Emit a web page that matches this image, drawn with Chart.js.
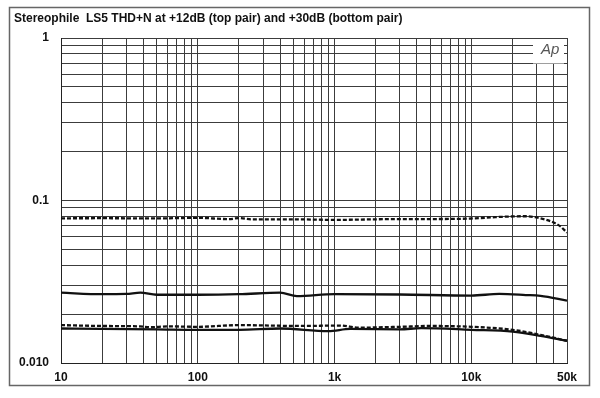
<!DOCTYPE html>
<html lang="en">
<head>
    <meta charset="UTF-8">
    <title>Stereophile LS5 THD+N</title>
    <script src="https://cdn.jsdelivr.net/npm/chart.js@4.4.0/dist/chart.umd.min.js"></script>
    <style>
        html, body { margin: 0; padding: 0; background: #fff; }
        #wrap { width: 600px; height: 398px; }
    </style>
</head>
<body>
    <div id="wrap"><canvas id="thdChart"></canvas></div>

    <script>
        // Frequency axis (Hz) and tick positions
        const xTicks = [10, 20, 30, 40, 50, 60, 70, 80, 90,
                        100, 200, 300, 400, 500, 600, 700, 800, 900,
                        1000, 2000, 3000, 4000, 5000, 6000, 7000, 8000, 9000,
                        10000, 20000, 30000, 40000, 50000];
        const xLabels = { 10: '10', 100: '100', 1000: '1k', 10000: '10k', 50000: '50k' };
        const yTicks = [0.01, 0.02, 0.03, 0.04, 0.05, 0.06, 0.07, 0.08, 0.09,
                        0.1, 0.2, 0.3, 0.4, 0.5, 0.6, 0.7, 0.8, 0.9, 1];
        const yLabels = { 1: '1', 0.1: '0.1', 0.01: '0.010' };

        // +12dB, dashed channel
        const freqTopDash = [10, 20, 50, 100, 170, 200, 250, 500, 1000, 2000, 3000, 5000, 10000, 15000, 20000, 25000, 32000, 41000, 45000, 50000];
        const thdTopDash  = [0.0777, 0.0778, 0.0776, 0.0782, 0.0768, 0.0780, 0.0766, 0.0766, 0.0760, 0.0766, 0.0769, 0.0769, 0.0775, 0.0790, 0.0798, 0.0800, 0.0777, 0.0725, 0.0690, 0.0633];
        // +12dB, solid channel
        const freqTopSolid = [10, 20, 30, 38, 50, 100, 200, 400, 530, 1000, 3000, 10000, 16000, 25000, 32000, 50000];
        const thdTopSolid  = [0.0271, 0.0265, 0.0266, 0.0271, 0.0263, 0.0263, 0.0265, 0.0271, 0.0258, 0.0265, 0.0264, 0.0260, 0.0266, 0.0262, 0.0259, 0.0242];
        // +30dB, dashed channel
        const freqLowDash = [10, 20, 38, 45, 60, 100, 200, 560, 1100, 1500, 3000, 5000, 10000, 20000, 32000, 50000];
        const thdLowDash  = [0.0171, 0.0169, 0.0168, 0.0166, 0.0168, 0.0167, 0.0171, 0.0169, 0.0170, 0.0165, 0.0167, 0.0169, 0.0167, 0.0160, 0.0149, 0.0137];
        // +30dB, solid channel
        const freqLowSolid = [10, 20, 50, 100, 200, 400, 900, 1300, 3000, 4300, 10000, 20000, 32000, 50000];
        const thdLowSolid  = [0.0163, 0.0162, 0.0161, 0.0160, 0.0160, 0.0163, 0.0157, 0.0162, 0.0161, 0.0164, 0.0160, 0.0156, 0.0147, 0.0137];

        const pts = (fs, vs) => fs.map((f, i) => ({ x: f, y: vs[i] }));

        // title, outer frame and the "Ap" box
        const decor = {
            id: 'decor',
            beforeDatasetsDraw(chart) {
                const { ctx, chartArea: a } = chart;
                ctx.save();
                ctx.fillStyle = '#fff';
                ctx.fillRect(533, a.top + 1, a.right - 533 - 3, 24.5);
                ctx.fillStyle = '#555';
                ctx.font = 'italic 15px "Liberation Sans"';
                ctx.textBaseline = 'middle';
                ctx.fillText('Ap', 541, a.top + 12);
                ctx.restore();
            },
            afterDraw(chart) {
                const { ctx } = chart;
                ctx.save();
                ctx.strokeStyle = '#666';
                ctx.lineWidth = 1.5;
                ctx.strokeRect(9.5, 7.5, 580, 378);
                ctx.fillStyle = '#111';
                ctx.font = 'bold 12px "Liberation Sans"';
                ctx.textBaseline = 'middle';
                ctx.fillText('Stereophile  LS5 THD+N at +12dB (top pair) and +30dB (bottom pair)', 14, 19);
                ctx.restore();
            }
        };

        const tickFont = { family: '"Liberation Sans", Arial, sans-serif', size: 12, weight: 'bold' };

        new Chart(document.getElementById('thdChart'), {
            type: 'line',
            data: {
                datasets: [
                    { data: pts(freqTopDash, thdTopDash), borderColor: '#111', borderWidth: 2.3, borderDash: [4, 2] },
                    { data: pts(freqTopSolid, thdTopSolid), borderColor: '#111', borderWidth: 2.3 },
                    { data: pts(freqLowDash, thdLowDash), borderColor: '#111', borderWidth: 2.3, borderDash: [4, 2] },
                    { data: pts(freqLowSolid, thdLowSolid), borderColor: '#111', borderWidth: 2.3 }
                ]
            },
            options: {
                responsive: true,
                maintainAspectRatio: false,
                animation: false,
                layout: { padding: { top: 38, right: 33, left: 0, bottom: 0 } },
                elements: {
                    point: { radius: 0 },
                    line: { tension: 0.35, cubicInterpolationMode: 'monotone' }
                },
                scales: {
                    x: {
                        type: 'logarithmic',
                        min: 10,
                        max: 50000,
                        afterBuildTicks: s => { s.ticks = xTicks.map(v => ({ value: v })); },
                        afterFit: s => { s.height = 35; },
                        grid: { color: '#3c3c3c', lineWidth: 1, drawTicks: false },
                        border: { display: true, color: '#222', width: 1 },
                        ticks: {
                            autoSkip: false,
                            maxRotation: 0,
                            padding: 7,
                            color: '#111',
                            font: tickFont,
                            callback: v => xLabels[v] || ''
                        }
                    },
                    y: {
                        type: 'logarithmic',
                        min: 0.01,
                        max: 1,
                        afterBuildTicks: s => { s.ticks = yTicks.map(v => ({ value: v })); },
                        afterFit: s => { s.width = 61; },
                        grid: { color: '#3c3c3c', lineWidth: 1, drawTicks: false },
                        border: { display: true, color: '#222', width: 1 },
                        ticks: {
                            autoSkip: false,
                            padding: 12,
                            color: '#111',
                            font: tickFont,
                            callback: v => yLabels[v] || ''
                        }
                    }
                },
                plugins: {
                    legend: { display: false },
                    title: { display: false },
                    tooltip: { enabled: false }
                }
            },
            plugins: [decor]
        });
    </script>
</body>
</html>
